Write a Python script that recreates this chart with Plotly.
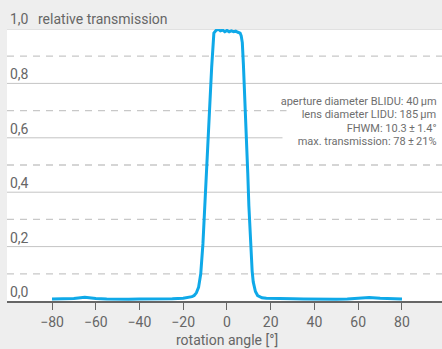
import plotly.graph_objects as go

# ---- data ----
angle = [-80, -75, -70, -65, -60, -55, -50, -45, -40, -35, -30, -25, -20, -18, -16, -15, -14, -13, -12, -11,
         -10.5, -10, -9.3, -8.5, -8, -7.5, -7, -6.5, -6, -5, -4, -3, -2, -1, 0, 1, 2, 3, 4, 5, 6, 6.5, 7,
         7.5, 8, 8.5, 9, 9.5, 10, 10.5, 11, 11.5, 12, 13, 14, 15, 16, 18, 20, 25, 30, 35, 40, 45, 50, 55,
         60, 65, 70, 75, 80]
transmission = [0.007, 0.008, 0.009, 0.014, 0.009, 0.007, 0.006, 0.006, 0.007, 0.007, 0.007, 0.008, 0.010,
                0.012, 0.016, 0.020, 0.030, 0.050, 0.100, 0.210, 0.300, 0.390, 0.500, 0.630, 0.700, 0.780,
                0.860, 0.940, 0.985, 0.995, 1.000, 0.993, 0.996, 0.990, 0.995, 0.990, 0.993, 0.990, 0.992,
                0.988, 0.985, 0.975, 0.950, 0.870, 0.780, 0.680, 0.580, 0.470, 0.350, 0.250, 0.170, 0.110,
                0.070, 0.035, 0.020, 0.015, 0.012, 0.010, 0.010, 0.009, 0.008, 0.007, 0.006, 0.006, 0.006,
                0.007, 0.009, 0.013, 0.010, 0.008, 0.007]

x_ticks = [-80, -60, -40, -20, 0, 20, 40, 60, 80]
y_ticks = [0.0, 0.2, 0.4, 0.6, 0.8]
y_tick_labels = ["0,0", "0,2", "0,4", "0,6", "0,8"]
y_major_grid = [0.2, 0.4, 0.6, 0.8, 1.0]
y_minor_grid = [0.1, 0.3, 0.5, 0.7, 0.9]
y_top_label = "1,0"
y_title = "relative transmission"
x_title = "rotation angle [°]"
info_lines = ["aperture diameter BLIDU: 40\u2009µm",
              "lens diameter LIDU: 185\u2009µm",
              "FHWM: 10.3\u2009±\u20091.4°",
              "max. transmission: 78\u2009±\u200921%"]
info_y = [0.733, 0.684, 0.635, 0.586]

FONT = "Roboto"
TXT = "#666666"

fig = go.Figure()
fig.add_trace(go.Scatter(x=angle, y=transmission, mode="lines",
                         line=dict(color="#0fa9e8", width=3), hoverinfo="skip"))

shapes = []
for v in y_major_grid:
    shapes.append(dict(type="line", xref="paper", x0=0, x1=1, yref="y", y0=v, y1=v,
                       line=dict(color="#c4c4c4", width=1), layer="below"))
for v in y_minor_grid:
    shapes.append(dict(type="line", xref="paper", x0=0, x1=1, yref="y", y0=v, y1=v,
                       line=dict(color="#c8c8c8", width=1.3, dash="7px,6px"), layer="below"))

annotations = []
for v, t in zip(y_ticks, y_tick_labels):
    annotations.append(dict(x=0, xref="paper", y=v, yref="y", text=t, showarrow=False,
                            xanchor="left", yanchor="bottom", xshift=1, yshift=-1,
                            font=dict(family=FONT, size=14, color=TXT)))
annotations.append(dict(x=0, xref="paper", y=1.0, yref="y", text=y_top_label, showarrow=False,
                        xanchor="left", yanchor="bottom", xshift=1,
                        font=dict(family=FONT, size=14, color=TXT)))
annotations.append(dict(x=0, xref="paper", y=1.0, yref="y", text=y_title, showarrow=False,
                        xanchor="left", yanchor="bottom", xshift=29,
                        font=dict(family=FONT, size=14, color=TXT)))
annotations.append(dict(x=0, xref="x", y=0, yref="paper", text=x_title, showarrow=False,
                        xanchor="center", yanchor="middle", yshift=-39,
                        font=dict(family=FONT, size=14, color=TXT)))
for t, yy in zip(info_lines, info_y):
    annotations.append(dict(x=1, xref="paper", y=yy, yref="y",
                            text="\u00a0\u00a0\u00a0\u00a0\u00a0" + t + "\u00a0\u00a0", showarrow=False,
                            xanchor="right", yanchor="middle", xshift=2,
                            bgcolor="white", borderpad=1,
                            font=dict(family=FONT, size=11, color="#6e6e6e")))

fig.update_layout(
    width=442, height=349,
    margin=dict(l=7, r=0, t=29, b=48),
    paper_bgcolor="#eeeeee", plot_bgcolor="white",
    showlegend=False,
    font=dict(family=FONT, color=TXT),
    annotations=annotations,
    shapes=shapes,
    xaxis=dict(range=[-100.57, 98.29], tickvals=x_ticks, ticks="outside", ticklen=7,
               tickcolor="#666666", tickwidth=1, showgrid=False, zeroline=False,
               showline=True, linecolor="#666666", linewidth=2,
               tickfont=dict(family=FONT, size=14, color=TXT)),
    yaxis=dict(range=[0, 1], showticklabels=False, ticks="", showgrid=False,
               zeroline=False, showline=False),
)

fig.write_html("out.html", config={"displayModeBar": False},
               post_script="document.body.style.margin='0';document.body.style.padding='0';"
                           "document.body.style.overflow='hidden';")
